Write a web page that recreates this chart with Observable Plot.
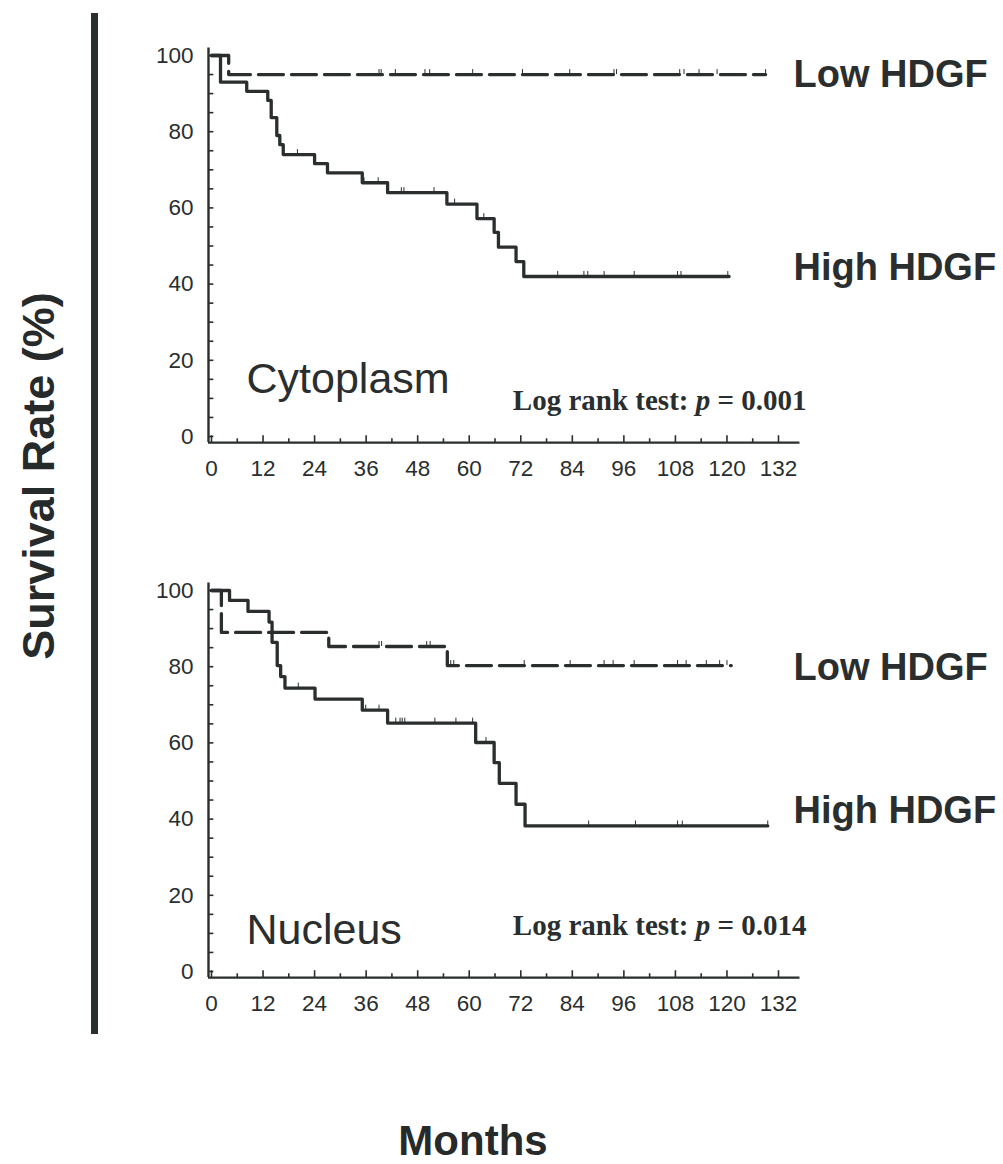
<!DOCTYPE html>
<html>
<head>
<meta charset="utf-8">
<script src="https://cdn.jsdelivr.net/npm/d3@7"></script>
<script src="https://cdn.jsdelivr.net/npm/@observablehq/plot@0.6"></script>
<style>
  html, body { margin: 0; padding: 0; background: #fff; }
  #root { position: relative; width: 1003px; height: 1164px; overflow: hidden;
          font-family: "Liberation Sans", Arial, sans-serif; color: #262a2a; background: #fff; }
  .panel { position: absolute; left: 0; }
  #bar { position: absolute; left: 91px; top: 13px; width: 7px; height: 1021px; background: #2a2f2f; }
  #ylab { position: absolute; left: 38px; top: 476px; transform: translate(-50%, -50%) rotate(-90deg);
          font-weight: bold; font-size: 45px; white-space: nowrap; line-height: 1; }
  #xlab { position: absolute; left: 473px; top: 1124px; transform: translateX(-50%);
          font-weight: bold; font-size: 42px; line-height: 0.8; white-space: nowrap; }
</style>
</head>
<body>
<div id="root">
  <div id="bar"></div>
  <div id="ylab">Survival Rate (%)</div>
  <div id="xlab">Months</div>
  <div id="p1" class="panel" style="top:0px"></div>
  <div id="p2" class="panel" style="top:535px"></div>
</div>
<script>
// ---------- data ----------
const xLabels = [0, 12, 24, 36, 48, 60, 72, 84, 96, 108, 120, 132];
const xTicks = d3.range(0, 133, 6);
const yLabels = [0, 20, 40, 60, 80, 100];
const yTicks = d3.range(0, 101, 5);

// Cytoplasm panel
const cytoHighMonths = [0, 2.1, 8.2, 13.1, 13.9, 15.2, 15.9, 16.7, 24, 27, 35.1, 41, 54.8, 61.8, 65.8, 66.8, 70.9, 72.7, 120.5];
const cytoHighSurv   = [100, 93, 90.6, 88.2, 83.7, 79, 76.6, 74, 71.6, 69.2, 66.6, 64, 61, 57.2, 53.6, 49.7, 45.9, 42, 42];
const cytoHighCensored = [20, 35.5, 38.8, 44.2, 44.8, 51.8, 56.6, 63.4, 80.6, 86.7, 87.6, 91.4, 98.4, 108.5, 109.3, 120.2];
const cytoLowMonths = [0, 4, 129];
const cytoLowSurv   = [100, 95, 95];
const cytoLowCensored = [39, 39.5, 42.8, 49.7, 50.8, 60.8, 72.4, 83.4, 93.7, 94.3, 109, 110, 113.5, 117.7, 129];

// Nucleus panel
const nucHighMonths = [0, 4.2, 8.5, 13.4, 14.1, 15.3, 16.1, 17.1, 24.1, 35.1, 41, 61.5, 65.8, 67, 70.9, 73, 129.5];
const nucHighSurv   = [100, 97.4, 94.5, 91.7, 86.4, 80.3, 77.4, 74.4, 71.5, 68.6, 65.2, 60.1, 54.8, 49.4, 43.9, 38.2, 38.2];
const nucHighCensored = [20.2, 35.9, 39, 42.9, 43.9, 44.4, 45, 52, 56.9, 60.8, 63.9, 87.8, 98.7, 108.5, 109.6, 129.5];
const nucLowMonths = [0, 2.3, 27.3, 54.9, 121];
const nucLowSurv   = [100, 89, 85.3, 80.3, 80.3];
const nucLowCensored = [39, 39.6, 50.1, 50.9, 55.7, 56.4, 72.8, 83.5, 91.4, 93.5, 98.4, 108.5, 110.5, 115.2, 118.3, 120];

const panelNames = ["Cytoplasm", "Nucleus"];
const pValues = ["0.001", "0.014"];
const groupLabels = ["Low HDGF", "High HDGF"];

// ---------- helpers ----------
const INK = "#2a2e2e";
const AX0 = -0.7, XEND = 137, AY0 = -1.6, YEND = 102;

function steps(months, surv) { return months.map((t, i) => ({t, s: surv[i]})); }
function survAt(months, surv, t) {
  let s = surv[0];
  for (let i = 0; i < months.length; i++) if (months[i] <= t) s = surv[i];
  return s;
}

function panel(cfg) {
  const high = steps(cfg.highT, cfg.highS);
  const low = steps(cfg.lowT, cfg.lowS);
  const cens = [
    ...cfg.highC.map(t => ({t, s: survAt(cfg.highT, cfg.highS, t)})),
    ...cfg.lowC.map(t => ({t, s: survAt(cfg.lowT, cfg.lowS, t)}))
  ];
  const textBase = {text: d => d, fill: INK, fontFamily: "Liberation Sans, Arial, sans-serif"};
  return Plot.plot({
    width: 1003, height: 520,
    marginLeft: 211, marginRight: 225, marginTop: 55, marginBottom: 84,
    x: {domain: [0, 132], label: null},
    y: {domain: [0, 100], label: null},
    style: {fontFamily: "Liberation Sans, Arial, sans-serif", fontSize: "22px", color: INK,
            background: "transparent", overflow: "visible"},
    marks: [
      Plot.axisY({ticks: yLabels, tickSize: 0, tickPadding: 18, fontSize: 22.5, label: null}),
      Plot.axisX({ticks: xLabels, tickSize: 0, tickPadding: 24, fontSize: 22.5, label: null}),
      Plot.ruleY(yTicks, {y: d => d, x1: AX0, x2: AX0 + 1.25, stroke: INK, strokeWidth: 1.6}),
      Plot.ruleX(xTicks, {x: d => d, y1: AY0, y2: d => d % 12 === 0 ? AY0 + 1.8 : AY0 + 1.0, stroke: INK, strokeWidth: 1.6}),
      Plot.ruleY([AY0], {x1: AX0, x2: XEND, stroke: INK, strokeWidth: 2.4}),
      Plot.ruleX([AX0], {y1: AY0, y2: YEND, stroke: INK, strokeWidth: 2.4}),
      Plot.line(high, {x: "t", y: "s", curve: "step-after", stroke: INK, strokeWidth: 3.3}),
      Plot.line(low, {x: "t", y: "s", curve: "step-after", stroke: INK, strokeWidth: 3.3, strokeDasharray: "25,8"}),
      Plot.ruleX(cens, {x: "t", y1: "s", y2: d => d.s + 1.3, stroke: INK, strokeWidth: 1}),
      Plot.text([cfg.name], {...textBase, frameAnchor: "bottom-left", textAnchor: "start", lineAnchor: "bottom",
        dx: 35, dy: cfg.nameDy, fontSize: 43}),
      Plot.text([`Log rank test: p = ${cfg.p}`], {...textBase, frameAnchor: "bottom-right", textAnchor: "end", lineAnchor: "bottom",
        dx: 28, dy: cfg.pDy, fontSize: 29, fontWeight: "bold", fontFamily: "Liberation Serif, Times New Roman, serif"}),
      Plot.text([groupLabels[0]], {...textBase, frameAnchor: "top-right", textAnchor: "start", lineAnchor: "bottom",
        dx: 15, dy: cfg.lowDy, fontSize: 38, fontWeight: "bold"}),
      Plot.text([groupLabels[1]], {...textBase, frameAnchor: "top-right", textAnchor: "start", lineAnchor: "bottom",
        dx: 15, dy: cfg.highDy, fontSize: 38, fontWeight: "bold"})
    ]
  });
}

function italicP(svg) {
  svg.querySelectorAll("text").forEach(el => {
    const s = el.textContent;
    if (!s.startsWith("Log rank test")) return;
    const idx = s.indexOf(" p ");
    const parts = [[s.slice(0, idx + 1), null], ["p", "italic"], [s.slice(idx + 2), null]];
    while (el.firstChild) el.removeChild(el.firstChild);
    for (const [txt, style] of parts) {
      const ts = document.createElementNS("http://www.w3.org/2000/svg", "tspan");
      ts.textContent = txt;
      if (style) ts.setAttribute("font-style", style);
      el.appendChild(ts);
    }
  });
}

const cfgs = [
  {name: panelNames[0], p: pValues[0], highT: cytoHighMonths, highS: cytoHighSurv, highC: cytoHighCensored,
   lowT: cytoLowMonths, lowS: cytoLowSurv, lowC: cytoLowCensored, nameDy: -44, pDy: -27, lowDy: 31, highDy: 224},
  {name: panelNames[1], p: pValues[1], highT: nucHighMonths, highS: nucHighSurv, highC: nucHighCensored,
   lowT: nucLowMonths, lowS: nucLowSurv, lowC: nucLowCensored, nameDy: -28, pDy: -37, lowDy: 89, highDy: 232}
];
["p1", "p2"].forEach((id, i) => {
  const svg = panel(cfgs[i]);
  italicP(svg);
  document.getElementById(id).appendChild(svg);
});
</script>
</body>
</html>
